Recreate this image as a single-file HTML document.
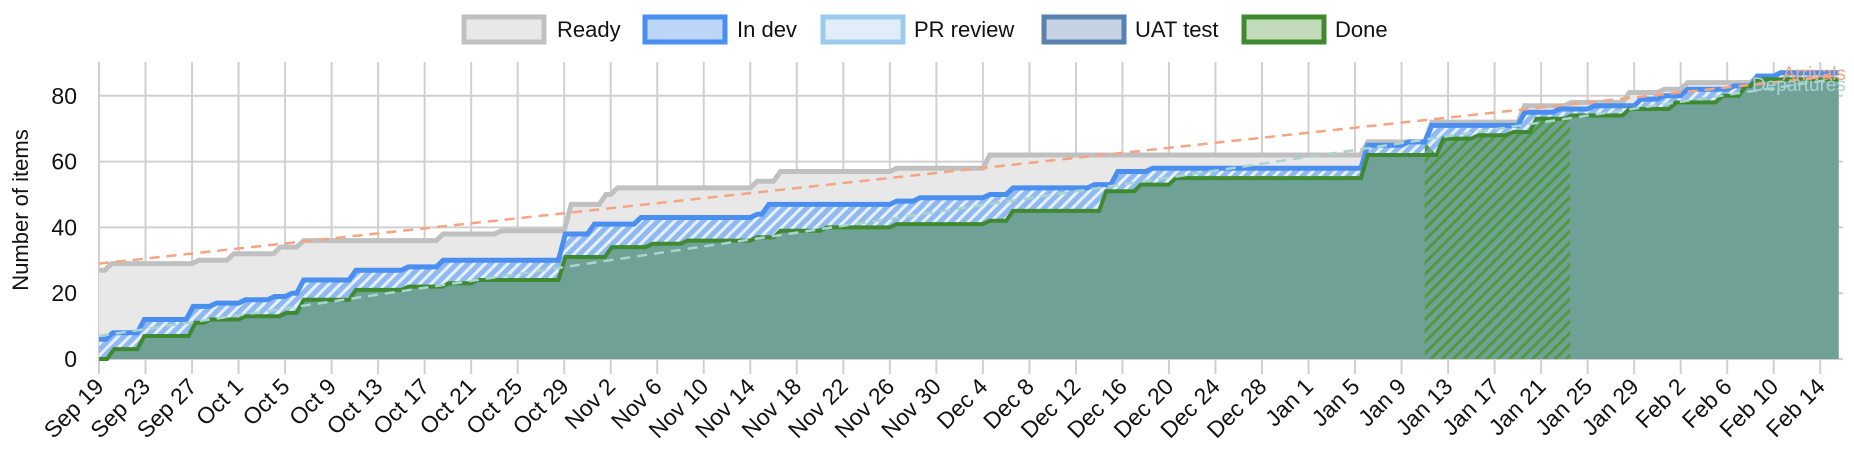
<!DOCTYPE html>
<html><head><meta charset="utf-8"><style>
html,body{margin:0;padding:0;background:#fff;overflow:hidden;}
svg{display:block;font-family:"Liberation Sans",sans-serif;}
</style></head><body>
<svg id="s" width="1854" height="466" xmlns="http://www.w3.org/2000/svg">
<defs>
<pattern id="hb" width="8" height="8" patternUnits="userSpaceOnUse" patternTransform="rotate(45)">
<rect width="8" height="8" fill="#8fb9f0"/><rect width="3" height="8" fill="#e6effc"/></pattern>
<pattern id="hg" width="8" height="8" patternUnits="userSpaceOnUse" patternTransform="rotate(45)">
<rect width="8" height="8" fill="#6fa197"/><rect width="3" height="8" fill="#4f9a3c"/></pattern>
</defs>
<g id="grid"></g>
<g id="series"></g>
<g id="axes"></g>
<g id="legend" font-size="22" fill="#111">
<rect x="464" y="17" width="80" height="25" fill="#e8e8e8" stroke="#c0c0c0" stroke-width="5"/><text x="557" y="37">Ready</text>
<rect x="645" y="17" width="80" height="25" fill="#bcd6f8" stroke="#4a8ff0" stroke-width="5"/><text x="737" y="37">In dev</text>
<rect x="823" y="17" width="80" height="25" fill="#e1eef9" stroke="#9ccbee" stroke-width="5"/><text x="914" y="37">PR review</text>
<rect x="1044" y="17" width="80" height="25" fill="#c4d2e4" stroke="#5a82b0" stroke-width="5"/><text x="1135" y="37">UAT test</text>
<rect x="1244" y="17" width="80" height="25" fill="#c2dbba" stroke="#3f8a2f" stroke-width="5"/><text x="1335" y="37">Done</text>
</g>
</svg>
<script>
var X0=99,DX=11.63,Y0=359,DY=3.29,END=149.6;
function X(d){return X0+d*DX}function Y(v){return Y0-v*DY}
function pts(data){var p=[[0,data[0][1]]],prev=data[0][1];
for(var i=1;i<data.length;i++){var d=data[i][0],v=data[i][1];p.push([d,prev]);p.push([d+0.6,v]);prev=v;}
p.push([END,prev]);return p;}
function line(p){return p.map(function(q,i){return(i?'L':'M')+X(q[0]).toFixed(1)+','+Y(q[1]).toFixed(1)}).join('');}
var green=[[0,0],[0.7,3],[3.3,7],[7.7,11],[9,12],[12,13],[15.5,14],[17,18],[21.5,21],[26,22],[29.5,23],[32,24],[39.5,31],[43.5,34],[47,35],[50,36],[56,37],[58,39],[62,40],[68,41],[76,42],[78,45],[86,51],[89,53],[92,55],[108.5,62],[115,67],[118,68],[121,69],[123,73],[126,74],[131,76],[135,78],[139,80],[141,83],[142,85]];
var blue=[[0,6],[0.6,8],[3.3,12],[7.5,16],[9.5,17],[12,18],[14.5,19],[16,20],[17,24],[21.5,27],[26,28],[29,30],[39.5,38],[42,41],[46,43],[56,44],[57,47],[68,48],[70,49],[76,50],[78,52],[85,53],[87,57],[90,58],[108.5,65],[112,66],[114,71],[122,75],[125,76],[128,77],[132,79],[134,80],[136,82],[140,83],[142,86],[144,87]];
var gray=[[0,27],[0.5,29],[8,30],[11,32],[15,34],[17,36],[29,38],[34,39],[40,47],[43,50],[44,52],[56,54],[58,57],[68,58],[76,62],[108.5,66],[114,72],[122,77],[126,78],[131,81],[134,82],[136,84],[142,86],[144,87]];
var gp=pts(green),bp=pts(blue),yp=pts(gray);
function area(top,bot){return line(top)+bot.slice().reverse().map(function(q){return'L'+X(q[0]).toFixed(1)+','+Y(q[1]).toFixed(1)}).join('')+'Z';}
var base=[[0,0],[END,0]];
var ns='http://www.w3.org/2000/svg';
function el(parent,tag,attrs,txt){var e=document.createElementNS(ns,tag);for(var k in attrs)e.setAttribute(k,attrs[k]);if(txt!=null)e.textContent=txt;document.getElementById(parent).appendChild(e);return e;}
for(var v=0;v<=80;v+=20)el('grid','line',{x1:X0,x2:1843,y1:Y(v),y2:Y(v),stroke:'#d0d0d0','stroke-width':2});
var mon=['Jan','Feb','Mar','Apr','May','Jun','Jul','Aug','Sep','Oct','Nov','Dec'];
for(var d=0;d<=148;d+=4){var dt=new Date(2022,8,19+d);var x=X(d);
el('grid','line',{x1:x,x2:x,y1:62,y2:374,stroke:'#d0d0d0','stroke-width':2});
el('axes','text',{x:x+6,y:388,'font-size':23,'text-anchor':'end',fill:'#111',transform:'rotate(-45 '+(x+6)+' 388)'},mon[dt.getMonth()]+' '+dt.getDate());}
for(var v=0;v<=80;v+=20)el('axes','text',{x:77,y:Y(v)+8,'font-size':23,'text-anchor':'end',fill:'#111'},v);
el('axes','text',{x:28,y:210,'font-size':22,'text-anchor':'middle',fill:'#111',transform:'rotate(-90 28 210)'},'Number of items');
el('series','path',{d:area(yp,bp),fill:'#e8e8e8'});
el('series','path',{d:area(bp,gp),fill:'url(#hb)'});
el('series','path',{d:area(gp,base),fill:'#6fa197'});
var hr=gp.filter(function(q){return q[0]>=114&&q[0]<=126.5});
var hp=[[114,66]].concat(hr).concat([[126.5,74]]);
el('series','path',{d:area(hp,[[114,0],[126.5,0]]),fill:'url(#hg)'});
el('series','path',{d:line(yp),fill:'none',stroke:'#c0c0c0','stroke-width':5});
el('series','path',{d:line(bp),fill:'none',stroke:'#4a8ff0','stroke-width':5});
el('series','path',{d:line(gp),fill:'none',stroke:'#3f8a2f','stroke-width':4});
el('series','line',{x1:X(0),y1:Y(29),x2:X(149),y2:Y(86),stroke:'#f4a582','stroke-width':2.5,'stroke-dasharray':'10,7'});
el('series','line',{x1:X(0),y1:Y(7),x2:X(149),y2:Y(85),stroke:'#a8d5cf','stroke-width':2.5,'stroke-dasharray':'10,7'});
el('series','text',{x:1846,y:80,'font-size':19,'text-anchor':'end',fill:'#f4a582'},'Arrivals');
el('series','text',{x:1846,y:91,'font-size':19,'text-anchor':'end',fill:'#a8d5cf'},'Departures');
</script>
</body></html>
